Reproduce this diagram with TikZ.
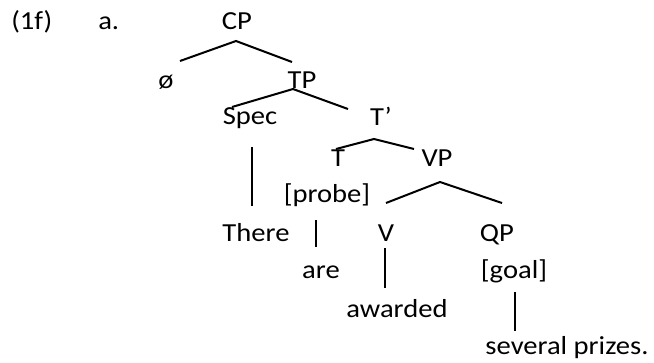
\documentclass[tikz,border=0pt]{standalone}
\usepackage{fontspec}
\setmainfont{Carlito}[FakeStretch=1.1]
\usetikzlibrary{calc}

\begin{document}
\begin{tikzpicture}[
  x=0.75pt, y=-0.75pt,
  wd/.style={inner sep=0pt, anchor=base, font=\fontsize{19.5pt}{23pt}\selectfont},
  br/.style={line width=1.5pt, black}]
\useasboundingbox (0,0) rectangle (654,362);
\node[wd, anchor=base west] (ex) at (11,29) {(1f)};
\node[wd, anchor=base west] (sub) at (98,29) {a.};
\node[wd] (cp) at (237,29) {CP};
\node[wd] (phi) at (166,88) {ø};
\node[wd] (tp) at (302,88) {TP};
\node[wd] (spec) at (250,124) {Spec};
\node[wd] (tbar) at (381,125) {T’};
\node[wd] (t) at (338,166) {T};
\node[wd] (vp) at (437,166) {VP};
\node[wd] (probe) at (327,202) {[probe]};
\node[wd] (there) at (256,241) {There};
\node[wd] (v) at (386,241) {V};
\node[wd] (qp) at (497,241) {QP};
\node[wd] (are) at (321,278) {are};
\node[wd] (goal) at (514,278) {[goal]};
\node[wd] (awd) at (397,317) {awarded};
\node[wd] (prz) at (567,354) {several prizes.};
\draw[br] ($(phi.base)+(14,-27)$) -- ($(cp.base)+(-1,12)$) -- ($(tp.base)+(-10,-26)$);
\draw[br] ($(spec.base)+(-18,-17)$) -- ($(tp.base)+(-9,1)$) -- ($(tbar.base)+(-33,-16)$);
\draw[br] ($(t.base)+(-2,-17)$) -- ($(tbar.base)+(-7,14)$) -- ($(vp.base)+(-23,-17)$);
\draw[br] ($(v.base)+(0,-38)$) -- ($(vp.base)+(3,16)$) -- ($(qp.base)+(5,-38)$);
\draw[br] ($(spec.base)+(2,23)$) -- ($(there.base)+(-4,-35)$);
\draw[br] ($(probe.base)+(-11,18)$) -- ($(are.base)+(-5,-31)$);
\draw[br] ($(v.base)+(-1,7)$) -- ($(awd.base)+(-12,-29)$);
\draw[br] ($(goal.base)+(1,14)$) -- ($(prz.base)+(-52,-23)$);
\end{tikzpicture}
\end{document}
